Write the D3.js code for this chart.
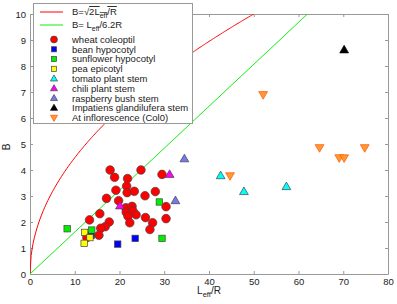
<!DOCTYPE html>
<html>
<head>
<meta charset="utf-8">
<script src="https://cdn.jsdelivr.net/npm/d3@7"></script>
<style>
  body { margin: 0; background: #fff; }
  svg { display: block; font-family: "Liberation Sans", Arial, sans-serif; }
  .axis path, .axis line { stroke: #999; }
  .axis text { fill: #222; font-size: 9.5px; }
</style>
</head>
<body>
<div id="chart"></div>
<script>
// wheat coleoptil
const wheatX = [17.9, 18.9, 21.8, 24.8, 29.5, 21.6, 19.2, 21.7, 23.3, 28.0, 25.7, 17.1, 19.8, 30.4, 21.4, 22.8,
  21.5, 23.0, 23.7, 21.9, 15.6, 25.8, 30.4, 22.3, 27.4, 13.3, 17.7, 16.8, 15.8, 26.8, 15.4, 12.7];
const wheatY = [4.0, 3.72, 3.67, 4.0, 3.83, 3.38, 3.22, 3.13, 3.18, 3.17, 3.01, 2.91, 2.82, 2.59, 2.55, 2.6,
  2.38, 2.42, 2.28, 2.22, 2.32, 2.17, 2.13, 1.97, 1.97, 2.08, 2.0, 1.82, 1.76, 1.71, 1.49, 1.40];
const beanX = [13.7, 19.6, 23.5];
const beanY = [1.49, 1.15, 1.37];
const sunflowerX = [8.3, 13.8, 28.9, 29.5];
const sunflowerY = [1.74, 1.69, 2.77, 1.37];
const peaX = [12.2, 13.4, 12.1];
const peaY = [1.6, 1.40, 1.18];
const tomatoX = [42.6, 47.8, 57.3];
const tomatoY = [3.78, 3.17, 3.36];
const chiliX = [20.1, 31.2];
const chiliY = [2.62, 3.83];
const raspberryX = [32.5, 34.5];
const raspberryY = [2.82, 4.43];
const impatiensX = [70.2];
const impatiensY = [8.62];
const atX = [44.7, 52.1, 64.7, 69.1, 70.2, 74.8];
const atY = [3.78, 6.9, 4.86, 4.47, 4.47, 4.86];

const xTicks = [0, 10, 20, 30, 40, 50, 60, 70, 80];
const yTicks = [0, 1, 2, 3, 4, 5, 6, 7, 8, 9, 10];

const series = [
  { name: "wheat coleoptil", xs: wheatX, ys: wheatY, shape: "circle", fill: "#ff0000", stroke: "#444" },
  { name: "bean hypocotyl", xs: beanX, ys: beanY, shape: "square", fill: "#0000ff", stroke: "#444" },
  { name: "sunflower hypocotyl", xs: sunflowerX, ys: sunflowerY, shape: "square", fill: "#00ee00", stroke: "#444" },
  { name: "pea epicotyl", xs: peaX, ys: peaY, shape: "square", fill: "#ffff00", stroke: "#444" },
  { name: "tomato plant stem", xs: tomatoX, ys: tomatoY, shape: "up", fill: "#00ffff", stroke: "#444" },
  { name: "chili plant stem", xs: chiliX, ys: chiliY, shape: "up", fill: "#ff00ff", stroke: "#444" },
  { name: "raspberry bush stem", xs: raspberryX, ys: raspberryY, shape: "up", fill: "#7777ee", stroke: "#444" },
  { name: "Impatiens glandilufera stem", xs: impatiensX, ys: impatiensY, shape: "up", fill: "#000000", stroke: "#000" },
  { name: "At inflorescence (Col0)", xs: atX, ys: atY, shape: "down", fill: "#ff9933", stroke: "#ff5500" }
];

const width = 397, height = 304;
const margin = { top: 14, right: 9, bottom: 30, left: 30 };
const iw = width - margin.left - margin.right;
const ih = height - margin.top - margin.bottom;

const svg = d3.select("#chart").append("svg")
  .attr("width", width)
  .attr("height", height);

const x = d3.scaleLinear().domain([0, 80]).range([margin.left, margin.left + iw]);
const y = d3.scaleLinear().domain([0, 10]).range([margin.top + ih, margin.top]);

// axes, ticks point inward
svg.append("g").attr("class", "axis")
  .attr("transform", `translate(0,${margin.top + ih})`)
  .call(d3.axisBottom(x).tickValues(xTicks).tickSizeInner(-3).tickSizeOuter(0).tickPadding(4));
svg.append("g").attr("class", "axis")
  .attr("transform", `translate(0,${margin.top})`)
  .call(d3.axisTop(x).tickValues(xTicks).tickSizeInner(-3).tickSizeOuter(0).tickFormat(""));
svg.append("g").attr("class", "axis")
  .attr("transform", `translate(${margin.left},0)`)
  .call(d3.axisLeft(y).tickValues(yTicks).tickSizeInner(-3).tickSizeOuter(0).tickPadding(4));
svg.append("g").attr("class", "axis")
  .attr("transform", `translate(${margin.left + iw},0)`)
  .call(d3.axisRight(y).tickValues(yTicks).tickSizeInner(-3).tickSizeOuter(0).tickFormat(""));

const plot = svg.append("g");
plot.append("clipPath").attr("id", "clip")
  .append("rect").attr("x", margin.left).attr("y", margin.top).attr("width", iw).attr("height", ih);

// theory curves
const redCurve = d3.range(0, 50.01, 0.25).map(v => [v, Math.sqrt(2 * v)]);
const greenCurve = [[0, 0], [62, 10]];
const line = d3.line().x(d => x(d[0])).y(d => y(d[1]));
plot.append("path").datum(redCurve).attr("d", line)
  .attr("fill", "none").attr("stroke", "#ff0000").attr("stroke-width", 1).attr("clip-path", "url(#clip)");
plot.append("path").datum(greenCurve).attr("d", line)
  .attr("fill", "none").attr("stroke", "#11ee11").attr("stroke-width", 1).attr("clip-path", "url(#clip)");

function marker(sel, shape, k) {
  k = k || 1;
  if (shape === "circle") {
    sel.append("circle").attr("r", 4.3 * k);
  } else if (shape === "square") {
    sel.append("rect").attr("x", -3.2 * k).attr("y", -3.2 * k).attr("width", 6.4 * k).attr("height", 6.4 * k);
  } else if (shape === "up") {
    sel.append("path").attr("d", `M0,${-4.6 * k}L${4.4 * k},${3 * k}L${-4.4 * k},${3 * k}Z`);
  } else {
    sel.append("path").attr("d", `M0,${4.6 * k}L${4.4 * k},${-3 * k}L${-4.4 * k},${-3 * k}Z`);
  }
}

series.forEach(s => {
  const pts = s.xs.map((v, i) => ({ x: v, y: s.ys[i] }));
  const g = plot.append("g")
    .attr("fill", s.fill).attr("stroke", s.stroke).attr("stroke-width", 0.7);
  pts.forEach(p => {
    const m = g.append("g").attr("transform", `translate(${x(p.x)},${y(p.y)})`);
    marker(m, s.shape);
  });
});

// axis labels
svg.append("text")
  .attr("transform", "translate(10,147) rotate(-90)")
  .attr("text-anchor", "middle")
  .attr("font-size", 10).attr("fill", "#222")
  .text("B");

const xl = svg.append("text")
  .attr("x", 209).attr("y", 294)
  .attr("text-anchor", "middle")
  .attr("font-size", 10).attr("fill", "#222");
xl.append("tspan").text("L");
xl.append("tspan").attr("dy", 3).attr("font-size", 7.5).text("eff");
xl.append("tspan").attr("dy", -3).text("/R");

// legend
const lg = svg.append("g");
lg.append("rect")
  .attr("x", 33.5).attr("y", 3.5).attr("width", 159).attr("height", 120)
  .attr("fill", "#fff").attr("stroke", "#999");

const tx = 72, fs = 9.5;
lg.append("line").attr("x1", 40).attr("x2", 63).attr("y1", 12).attr("y2", 12)
  .attr("stroke", "#ff0000");
const t1 = lg.append("text").attr("x", tx).attr("y", 15).attr("font-size", fs).attr("fill", "#222");
t1.append("tspan").text("B=\u221A");
t1.append("tspan").attr("text-decoration", "overline").text("2L");
t1.append("tspan").attr("dy", 3).attr("font-size", 7).attr("text-decoration", "overline").text("eff");
t1.append("tspan").attr("dy", -3).attr("text-decoration", "overline").text("/R");

lg.append("line").attr("x1", 40).attr("x2", 63).attr("y1", 25).attr("y2", 25)
  .attr("stroke", "#11ee11");
const t2 = lg.append("text").attr("x", tx).attr("y", 28).attr("font-size", fs).attr("fill", "#222");
t2.append("tspan").text("B= L");
t2.append("tspan").attr("dy", 3).attr("font-size", 7).text("eff");
t2.append("tspan").attr("dy", -3).text("/6.2R");

const rowY = d3.scaleLinear().domain([0, 8]).range([39.5, 117.7]);
series.forEach((s, i) => {
  const m = lg.append("g")
    .attr("transform", `translate(54,${rowY(i)})`)
    .attr("fill", s.fill).attr("stroke", s.stroke).attr("stroke-width", 0.7);
  marker(m, s.shape, 0.8);
  lg.append("text").attr("x", tx).attr("y", rowY(i) + 3.4)
    .attr("font-size", fs).attr("fill", "#222").text(s.name);
});
</script>
</body>
</html>
